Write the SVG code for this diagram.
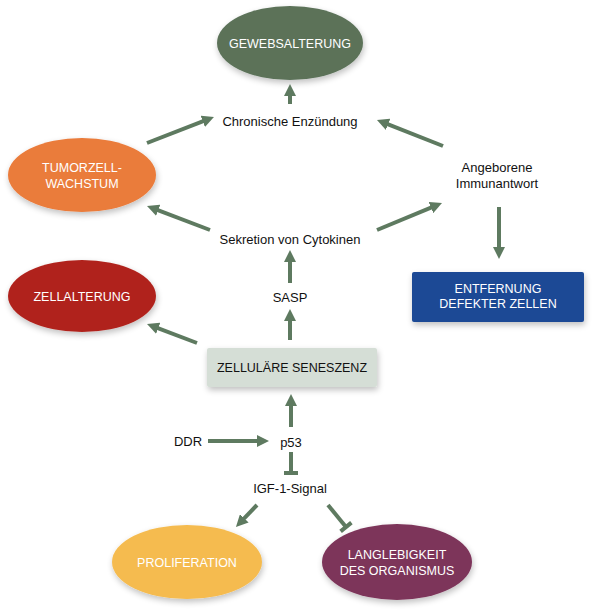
<svg xmlns="http://www.w3.org/2000/svg" width="600" height="615" viewBox="0 0 600 615">
<defs>
<style>
.lbl{font-family:"Liberation Sans",Arial,sans-serif;font-size:13px;fill:#111;text-anchor:middle}
.nl{font-family:"Liberation Sans",Arial,sans-serif;font-size:12.5px;fill:#fff;text-anchor:middle}
.dk{fill:#111}
.c{stroke:#5e7a60;stroke-width:4;fill:none}
</style>
<marker id="ah" markerUnits="strokeWidth" markerWidth="3" markerHeight="3" refX="1" refY="1.5" orient="auto">
<path d="M0,0 L3,1.5 L0,3 z" fill="#5e7a60"/>
</marker>
<filter id="sh" x="-20%" y="-20%" width="140%" height="150%">
<feGaussianBlur in="SourceAlpha" stdDeviation="3"/>
<feOffset dx="1" dy="3" result="b"/>
<feComponentTransfer><feFuncA type="linear" slope="0.25"/></feComponentTransfer>
<feMerge><feMergeNode/><feMergeNode in="SourceGraphic"/></feMerge>
</filter>
</defs>
<rect width="600" height="615" fill="#fff"/>

<g id="gewebsalterung"><ellipse cx="290" cy="43" rx="73" ry="37" fill="#5b7259" filter="url(#sh)"/><text class="nl" x="290" y="48">GEWEBSALTERUNG</text></g>
<g id="chronische"><text class="lbl" x="290" y="126">Chronische Enzündung</text></g>
<g id="tumor"><ellipse cx="82" cy="175" rx="74" ry="37" fill="#ea7b3b" filter="url(#sh)"/><text class="nl" x="82" y="172">TUMORZELL-</text><text class="nl" x="82" y="188">WACHSTUM</text></g>
<g id="angeborene"><text class="lbl" x="497" y="172">Angeborene</text><text class="lbl" x="497" y="188">Immunantwort</text></g>
<g id="sekretion"><text class="lbl" x="290" y="244">Sekretion von Cytokinen</text></g>
<g id="entfernung"><rect x="412" y="272" width="172" height="50" rx="2" fill="#1c4a95" filter="url(#sh)"/><text class="nl" x="498" y="293">ENTFERNUNG</text><text class="nl" x="498" y="308">DEFEKTER ZELLEN</text></g>
<g id="zellalterung"><ellipse cx="82" cy="296" rx="74" ry="36" fill="#b0231c" filter="url(#sh)"/><text class="nl" x="82" y="301">ZELLALTERUNG</text></g>
<g id="sasp"><text class="lbl" x="290" y="302">SASP</text></g>
<g id="seneszenz"><rect x="207" y="348" width="170" height="39" rx="2" fill="#d5ded6" filter="url(#sh)"/><text class="nl dk" x="292" y="372">ZELLULÄRE SENESZENZ</text></g>
<g id="ddr"><text class="lbl" x="188" y="446">DDR</text></g>
<g id="p53"><text class="lbl" x="291" y="447">p53</text></g>
<g id="igf"><text class="lbl" x="290" y="493">IGF-1-Signal</text></g>
<g id="proliferation"><ellipse cx="187" cy="562" rx="75" ry="37" fill="#f5bb4f" filter="url(#sh)"/><text class="nl" x="187" y="567">PROLIFERATION</text></g>
<g id="langlebigkeit"><ellipse cx="397" cy="562" rx="75" ry="38" fill="#7d355a" filter="url(#sh)"/><text class="nl" x="397" y="559">LANGLEBIGKEIT</text><text class="nl" x="397" y="575">DES ORGANISMUS</text></g>

<g id="connectors">
<line class="c" x1="290" y1="104" x2="290" y2="92" marker-end="url(#ah)"/>
<line class="c" x1="147" y1="143" x2="206.5" y2="119.9" marker-end="url(#ah)"/>
<line class="c" x1="443" y1="146" x2="384.4" y2="122.9" marker-end="url(#ah)"/>
<line class="c" x1="210" y1="230" x2="154.5" y2="208.8" marker-end="url(#ah)"/>
<line class="c" x1="377" y1="230" x2="434.6" y2="206.1" marker-end="url(#ah)"/>
<line class="c" x1="499" y1="207" x2="499" y2="251" marker-end="url(#ah)"/>
<line class="c" x1="290" y1="283" x2="290" y2="258" marker-end="url(#ah)"/>
<line class="c" x1="290" y1="340" x2="290" y2="317" marker-end="url(#ah)"/>
<line class="c" x1="197" y1="343" x2="154.5" y2="326.8" marker-end="url(#ah)"/>
<line class="c" x1="291" y1="427" x2="291" y2="402" marker-end="url(#ah)"/>
<line class="c" x1="208" y1="441" x2="261" y2="441" marker-end="url(#ah)"/>
<line class="c" x1="257" y1="505" x2="241.5" y2="521.2" marker-end="url(#ah)"/>
<line class="c" x1="291" y1="452" x2="291" y2="473"/>
<line class="c" stroke-width="3" x1="284" y1="473" x2="298" y2="473"/>
<line class="c" x1="328" y1="505" x2="346" y2="527"/>
<line class="c" stroke-width="3" x1="340.6" y1="531.4" x2="351.4" y2="522.6"/>
</g>
</svg>
